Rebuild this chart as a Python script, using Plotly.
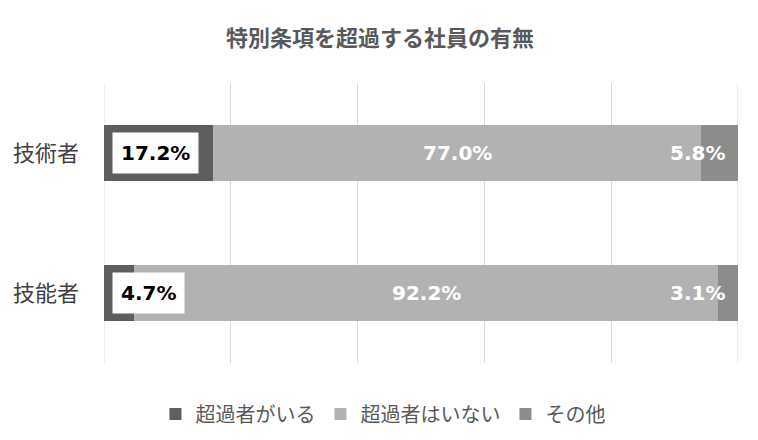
import plotly.graph_objects as go

categories = ["技術者", "技能者"]
series_names = ["超過者がいる", "超過者はいない", "その他"]
over = [17.2, 4.7]
not_over = [77.0, 92.2]
other = [5.8, 3.1]
colors = ["#5e5e5e", "#b2b2b2", "#8c8c8c"]

values = [over, not_over, other]
fig = go.Figure()
for name, vals, col in zip(series_names, values, colors):
    fig.add_trace(go.Bar(
        y=categories, x=vals, name=name, orientation="h",
        marker=dict(color=col, line=dict(width=0)),
        hoverinfo="skip",
    ))

label_font = dict(family="DejaVu Sans", size=20, color="white")
for i, cat in enumerate(categories):
    fig.add_annotation(
        x=0, y=cat, xref="x", yref="y", text=f"<b>{over[i]:.1f}%</b>",
        showarrow=False, xanchor="left", xshift=8,
        font=dict(family="DejaVu Sans", size=20, color="black"),
        bgcolor="white", borderpad=8,
    )
    fig.add_annotation(
        x=over[i] + not_over[i] / 2, y=cat, xref="x", yref="y",
        text=f"<b>{not_over[i]:.1f}%</b>", showarrow=False,
        font=label_font,
    )
    fig.add_annotation(
        x=over[i] + not_over[i] + other[i], y=cat, xref="x", yref="y",
        text=f"<b>{other[i]:.1f}%</b>", showarrow=False,
        xanchor="right", xshift=-11, font=label_font,
    )

# edge gridlines (0% and 100%) that plotly omits at the axis ends
for gx in (0, 100):
    fig.add_shape(type="line", xref="x", yref="paper", x0=gx, x1=gx, y0=0, y1=1,
                  line=dict(color="#d9d9d9", width=1), layer="below")

fig.update_layout(
    width=750, height=432,
    barmode="stack", bargap=0.6,
    plot_bgcolor="white", paper_bgcolor="white",
    margin=dict(l=96, r=20, t=75, b=77, autoexpand=False),
    title=dict(text="<b>特別条項を超過する社員の有無</b>", x=(380 - 8) / 750, xanchor="center",
               y=1 - 30 / 432, yanchor="middle",
               font=dict(family="Noto Sans CJK JP", size=22, color="#595959")),
    xaxis=dict(range=[0, 100], tick0=0, dtick=20, showgrid=True, gridcolor="#d9d9d9",
               gridwidth=1, showticklabels=False, zeroline=False, showline=False,
               fixedrange=True, automargin=False),
    yaxis=dict(categoryorder="array", categoryarray=categories, autorange="reversed",
               showgrid=False, zeroline=False, showline=False, ticks="",
               ticklabelstandoff=24, automargin=False,
               tickfont=dict(family="Noto Sans CJK JP", size=22, color="#404040")),
    legend=dict(orientation="h", x=0.44, xanchor="center", y=-0.182, yanchor="middle",
                font=dict(family="Noto Sans CJK JP", size=20, color="#595959"),
                itemwidth=30, traceorder="normal"),
    showlegend=True,
)

fig.write_html("out.html")
